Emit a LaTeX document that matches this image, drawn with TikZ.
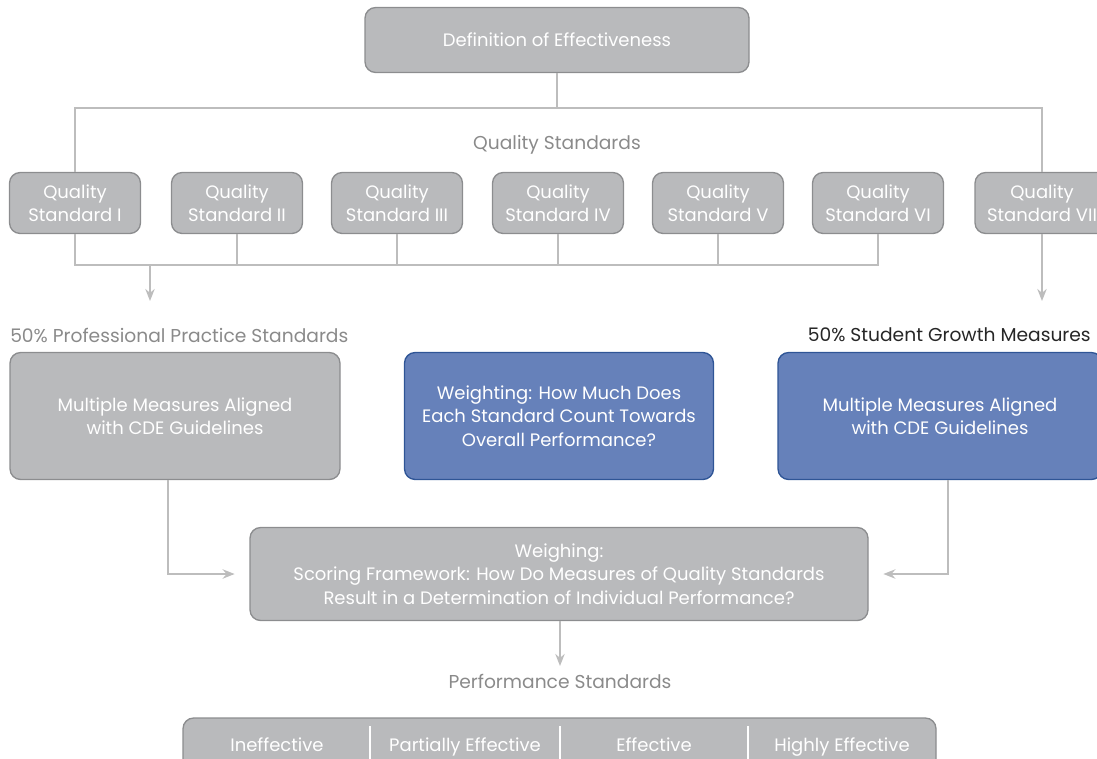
\documentclass[tikz,border=0pt]{standalone}
\usepackage{fontspec}
\setmainfont{Poppins}
\usetikzlibrary{arrows.meta}
\definecolor{boxgray}{HTML}{B9BABC}
\definecolor{boxline}{HTML}{8C8D8F}
\definecolor{boxblue}{HTML}{6681BA}
\definecolor{blueline}{HTML}{2F5596}
\definecolor{connc}{HTML}{BDBDBD}
\definecolor{labelgray}{HTML}{8A8A8A}
\tikzset{
  gbox/.style={draw=boxline, line width=1pt, fill=boxgray, rounded corners=8pt, text=white, align=center, font=\fontsize{13.5}{17.5}\selectfont, inner sep=0pt},
  bbox/.style={gbox, draw=blueline, fill=boxblue},
  conn/.style={draw=connc, line width=1.5pt},
  arr/.style={conn, -{Stealth[length=9pt,width=7pt]}},
  lbl/.style={text=labelgray, font=\fontsize{14}{16}\selectfont, inner sep=0pt},
  sz/.style 2 args={minimum width=#1*0.75pt, minimum height=#2*0.75pt},
  pcell/.style={text=white, font=\fontsize{13.5}{16}\selectfont, anchor=base, inner sep=0pt},
}
\begin{document}
\begin{tikzpicture}[x=0.75pt,y=-0.75pt]
\useasboundingbox (0,0) rectangle (1097,758);
\clip (0,0) rectangle (1097,758);
\node[gbox, sz={384}{65}] (def) at (557,40) {Definition of Effectiveness};
\node[lbl] (qslbl) at (557,145) {Quality Standards};
\node[gbox, sz={131}{61}] (qs1) at (75,203) {Quality\\Standard I};
\node[gbox, sz={131}{61}] (qs2) at (237,203) {Quality\\Standard II};
\node[gbox, sz={131}{61}] (qs3) at (397,203) {Quality\\Standard III};
\node[gbox, sz={131}{61}] (qs4) at (558,203) {Quality\\Standard IV};
\node[gbox, sz={131}{61}] (qs5) at (718,203) {Quality\\Standard V};
\node[gbox, sz={131}{61}] (qs6) at (878,203) {Quality\\Standard VI};
\node[gbox, sz={134}{61}] (qs7) at (1042,203) {Quality\\Standard VII};
\coordinate (htop) at (0,108);
\coordinate (hbot) at (0,265);
\draw[conn] (def.south) -- (def.south |- htop);
\draw[conn] (qs1.north) -- (qs1.north |- htop) -- (qs7.north |- htop) -- (qs7.north);
\draw[conn] (qs1.south) -- (qs1.south |- hbot) -- (qs6.south |- hbot) -- (qs6.south);
\foreach \i in {2,3,4,5} {\draw[conn] (qs\i.south) -- (qs\i.south |- hbot);}
\coordinate (la) at (150,265);
\coordinate (lae) at (150,301);
\draw[arr] (la) -- (lae);
\draw[arr] (qs7.south) -- (qs7.south |- lae);
\node[lbl, anchor=west] (pps) at (10,335) {50\% Professional Practice Standards};
\node[lbl, anchor=east, text=black!85] (sgm) at (1091,335) {50\% Student Growth Measures};
\node[gbox, sz={330}{127}] (mm1) at (175,416) {Multiple Measures Aligned\\with CDE Guidelines};
\node[bbox, sz={309}{127}] (wt) at (559,416) {Weighting: How Much Does\\Each Standard Count Towards\\Overall Performance?};
\node[bbox, sz={324}{127}] (mm2) at (940,416) {Multiple Measures Aligned\\with CDE Guidelines};
\node[gbox, sz={618}{93}] (wb) at (559,574) {Weighing:\\Scoring Framework: How Do Measures of Quality Standards\\Result in a Determination of Individual Performance?};
\coordinate (lx) at (168,0);
\coordinate (rx) at (948,0);
\draw[arr] (mm1.south -| lx) |- ([xshift=-11pt]wb.west);
\draw[arr] (mm2.south -| rx) |- ([xshift=11pt]wb.east);
\coordinate (pd) at (560,666);
\draw[arr] (wb.south -| pd) -- (pd);
\node[lbl] (pslbl) at (560,681) {Performance Standards};
\node[gbox, sz={753}{56}] (ps) at (559.5,746) {};
\node[pcell] (p1) at (277,751) {Ineffective};
\node[pcell] (p2) at (465,751) {Partially Effective};
\node[pcell] (p3) at (654,751) {Effective};
\node[pcell] (p4) at (842,751) {Highly Effective};
\foreach \x in {370,560,748} {\draw[white, line width=1pt] (\x,726) -- (\x,775);}
\end{tikzpicture}
\end{document}
